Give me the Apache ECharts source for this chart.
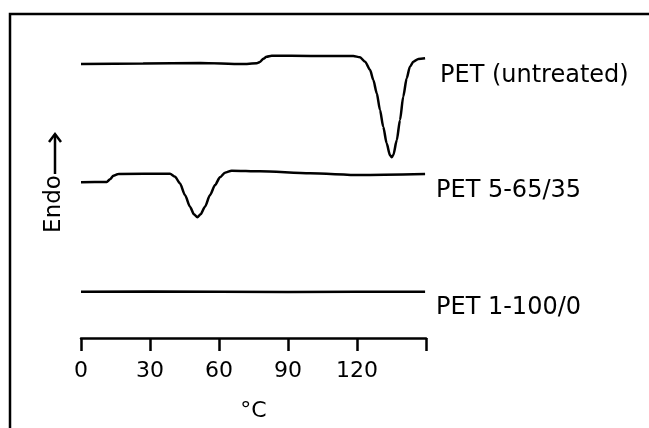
<!DOCTYPE html>
<html>
<head>
<meta charset="utf-8">
<script src="https://cdn.jsdelivr.net/npm/echarts@6/dist/echarts.min.js"></script>
<style>
html,body{margin:0;padding:0;background:#fff;}
#c{width:649px;height:428px;}
</style>
</head>
<body>
<div id="c"></div>
<script>
// Temperature (°C) and heat flow (arbitrary units, endo up)
var untreatedT = [0, 27, 52, 70, 76.4, 77.8, 79.3, 80.7, 82.9, 100, 118.4, 121.3, 123.5, 125.7, 127.1, 128.6, 130, 131.4, 132.9, 134.3, 135.1, 135.8, 137.3, 138.7, 140.1, 141.6, 143, 144.5, 146.7, 149.6];
var untreatedQ = [274, 274.5, 275, 274, 274.7, 276, 279.3, 281.3, 282.3, 282, 282, 280.7, 276.3, 268, 258, 244.7, 228, 211.3, 194.7, 183, 180.7, 183, 198, 218, 241.3, 259.7, 271.3, 276.3, 279, 279.7];

var pet565T = [0, 11.2, 12.6, 14.1, 16.2, 38.7, 40.9, 43, 45.2, 47.4, 49.1, 50.6, 52, 53.9, 56.1, 58.3, 60.4, 62.6, 65.5, 77.8, 99.6, 121.3, 149.6];
var pet565Q = [155.7, 156, 158.7, 162.3, 164, 164.3, 161.3, 154.7, 143, 131.3, 123.7, 120.7, 123.7, 131.3, 143, 153, 160.7, 165.3, 167.3, 166.7, 164.7, 163, 164];

var pet1100T = [0, 30, 60, 90, 120, 149.6];
var pet1100Q = [46.3, 46.5, 46.3, 46, 46.2, 46.3];

var xTicks = [0, 30, 60, 90, 120, 150];
var seriesNames = ['PET (untreated)', 'PET 5-65/35', 'PET 1-100/0'];

function pairs(t, q) { return t.map(function (v, i) { return [v, q[i]]; }); }

var chart = echarts.init(document.getElementById('c'), null, {renderer: 'canvas'});
var FONT = 'DejaVu Sans';
var lineStyle = {color: '#000', width: 2.5};
chart.setOption({
  animation: false,
  backgroundColor: '#fff',
  grid: {left: 81, right: 223, top: 38, bottom: 90, containLabel: false, outerBoundsMode: 'none'},
  xAxis: {
    type: 'value', min: 0, max: 150, interval: 30,
    axisLine: {show: true, lineStyle: {color: '#000', width: 2.5}},
    axisTick: {show: true, length: 13, lineStyle: {color: '#000', width: 2.5}},
    splitLine: {show: false},
    axisLabel: {
      margin: 22, color: '#000', fontFamily: FONT, fontSize: 22,
      formatter: function (v) { return xTicks.indexOf(v) >= 0 && v < 150 ? String(v) : ''; }
    },
    name: '°C', nameLocation: 'middle', nameGap: 62,
    nameTextStyle: {color: '#000', fontFamily: FONT, fontSize: 22}
  },
  yAxis: {
    type: 'value', min: 0, max: 300, show: false
  },
  series: [
    {name: seriesNames[0], type: 'line', data: pairs(untreatedT, untreatedQ), smooth: 0.25, smoothMonotone: 'x', showSymbol: false, lineStyle: lineStyle},
    {name: seriesNames[1], type: 'line', data: pairs(pet565T, pet565Q), smooth: 0.25, smoothMonotone: 'x', showSymbol: false, lineStyle: lineStyle},
    {name: seriesNames[2], type: 'line', data: pairs(pet1100T, pet1100Q), smooth: false, showSymbol: false, lineStyle: lineStyle}
  ],
  graphic: [
    {type: 'polyline', shape: {points: [[10, 428], [10, 14], [649, 14]]}, style: {stroke: '#000', lineWidth: 2.5, fill: null}},
    {type: 'text', left: 440, top: 64, style: {text: seriesNames[0], font: '24px "' + FONT + '"', fill: '#000'}},
    {type: 'text', left: 436, top: 179, style: {text: seriesNames[1], font: '24px "' + FONT + '"', fill: '#000'}},
    {type: 'text', left: 436, top: 296, style: {text: seriesNames[2], font: '24px "' + FONT + '"', fill: '#000'}},
    {type: 'text', x: 54, y: 204, rotation: Math.PI / 2,
     style: {text: 'Endo', font: '23px "' + FONT + '"', fill: '#000', align: 'center', verticalAlign: 'middle'}},
    {type: 'line', shape: {x1: 55, y1: 174, x2: 55, y2: 134}, style: {stroke: '#000', lineWidth: 2.5}},
    {type: 'polyline', shape: {points: [[49, 142], [55, 134], [61, 142]]}, style: {stroke: '#000', lineWidth: 2.5, fill: null}}
  ]
});
</script>
</body>
</html>
